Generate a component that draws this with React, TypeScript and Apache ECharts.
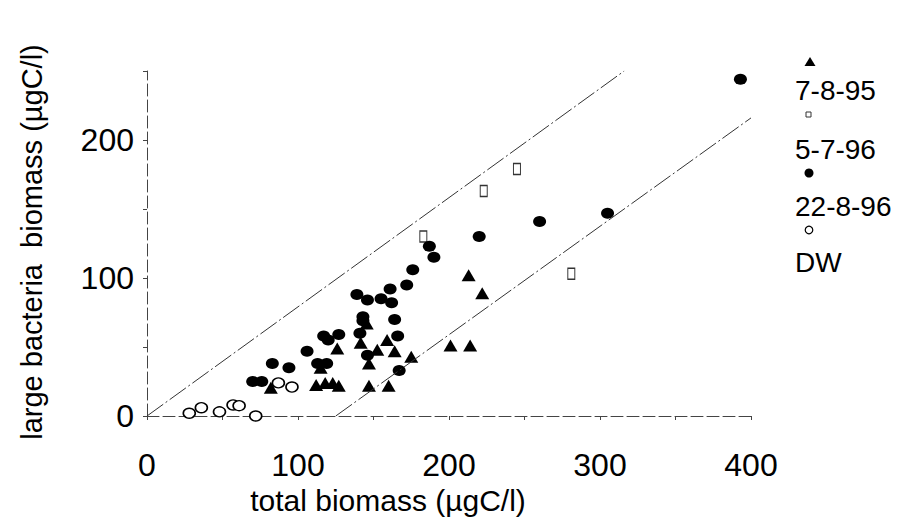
import React, { useEffect, useRef } from "react";
import * as echarts from "echarts";

// ---- data ----
const seriesNames = ["7-8-95", "5-7-96", "22-8-96", "DW"];

const aug95: number[][] = [
  [82, 20.5], [115, 35], [112, 22.5], [118, 24], [123, 24], [127, 22],
  [126, 49], [141.5, 53], [145.5, 67], [147, 38], [152.5, 48], [159, 55],
  [164, 47], [175, 43], [147, 22], [160, 22], [201, 51], [214, 51],
  [213, 102], [222, 89],
];

const jul96: number[][] = [
  [183, 130], [223, 163], [245, 179], [281, 103],
];

const aug96: number[][] = [
  [393, 244], [305, 147], [260, 141], [220, 130], [187, 123], [190, 115],
  [176, 106], [172, 95], [161, 92], [167, 33], [139, 88], [146, 84],
  [155, 85], [162, 82], [143, 72], [143, 69], [164, 70], [141, 60],
  [127, 59], [117, 58], [120, 55], [166, 58], [146, 44], [106, 47],
  [113, 38], [119, 38], [83, 38], [94, 35], [70, 25], [76, 25],
];

const dw: number[][] = [
  [28, 2], [36, 6], [48, 3], [57, 8], [61, 7.5], [72, 0], [87, 24], [96, 21],
];

const upperLine: number[][] = [[0, 0], [316, 250]];
const lowerLine: number[][] = [[125, 0], [400, 216]];

const xTicks = { min: 0, max: 400, step: 50 };
const yTicks = { min: 0, max: 250, step: 50 };

const FONT = "'Liberation Sans', Arial, Helvetica, sans-serif";
const INK = "#000";

export default function App() {
  const ref = useRef<HTMLDivElement>(null);

  useEffect(() => {
    if (!ref.current) return;
    const chart = echarts.init(ref.current, undefined, { renderer: "svg" });

    const axisCommon = {
      type: "value" as const,
      splitLine: { show: false },
      axisLine: { show: true, lineStyle: { color: "#444", width: 1, type: [12, 4] } },
      axisTick: { show: true, length: 4, lineStyle: { color: "#444", width: 1 } },
    };

    const legendY = [90, 149, 206, 262];
    const symY = [62, 115, 173, 230];

    chart.setOption({
      animation: false,
      backgroundColor: "#fff",
      textStyle: { fontFamily: FONT, color: INK },
      grid: { left: 147, right: 149, top: 71, bottom: 101, outerBoundsMode: "none" },
      xAxis: {
        ...axisCommon,
        min: xTicks.min,
        max: xTicks.max,
        interval: xTicks.step,
        axisLabel: {
          margin: 33,
          fontSize: 32,
          color: INK,
          fontFamily: FONT,
          formatter: (v: number) => (v % 100 === 0 ? String(v) : ""),
        },
      },
      yAxis: {
        ...axisCommon,
        min: yTicks.min,
        max: yTicks.max,
        interval: yTicks.step,
        axisLabel: {
          margin: 13,
          fontSize: 32,
          color: INK,
          fontFamily: FONT,
          formatter: (v: number) => (v % 100 === 0 ? String(v) : ""),
        },
      },
      graphic: [
        {
          type: "text",
          x: 388,
          y: 500,
          style: {
            text: "total biomass (µgC/l)",
            font: `30px ${FONT}`,
            fill: INK,
            textAlign: "center",
            textVerticalAlign: "middle",
          },
        },
        {
          type: "text",
          x: 32,
          y: 242,
          rotation: Math.PI / 2,
          style: {
            text: "large bacteria  biomass (µgC/l)",
            font: `29px ${FONT}`,
            fill: INK,
            textAlign: "center",
            textVerticalAlign: "middle",
          },
        },
        // legend symbols
        {
          type: "polygon",
          shape: { points: [[810, symY[0] - 5], [815.5, symY[0] + 4], [804.5, symY[0] + 4]] },
          style: { fill: INK },
        },
        {
          type: "rect",
          shape: { x: 806, y: symY[1] - 3, width: 5, height: 5 },
          style: { fill: "#fff", stroke: "#333", lineWidth: 1 },
        },
        {
          type: "circle",
          shape: { cx: 809, cy: symY[2], r: 4.5 },
          style: { fill: INK },
        },
        {
          type: "circle",
          shape: { cx: 809, cy: symY[3], r: 3.8 },
          style: { fill: "#fff", stroke: INK, lineWidth: 1.2 },
        },
        ...seriesNames.map((name, i) => ({
          type: "text",
          x: 795,
          y: legendY[i],
          style: {
            text: name,
            font: `28px ${FONT}`,
            fill: INK,
            textAlign: "left",
            textVerticalAlign: "middle",
          },
        })),
      ],
      series: [
        {
          type: "line",
          name: "upper",
          data: upperLine,
          symbol: "none",
          silent: true,
          lineStyle: { color: "#333", width: 1, type: [20, 3, 2, 3] },
        },
        {
          type: "line",
          name: "lower",
          data: lowerLine,
          symbol: "none",
          silent: true,
          lineStyle: { color: "#333", width: 1, type: [20, 3, 2, 3] },
        },
        {
          type: "scatter",
          name: seriesNames[0],
          data: aug95,
          symbol: "triangle",
          symbolSize: [14, 12],
          itemStyle: { color: INK, opacity: 1 },
        },
        {
          type: "scatter",
          name: seriesNames[1],
          data: jul96,
          symbol: "rect",
          symbolSize: [7, 11],
          itemStyle: { color: "#fff", borderColor: "#333", borderWidth: 1.2, opacity: 1 },
        },
        {
          type: "scatter",
          name: seriesNames[2],
          data: aug96,
          symbol: "circle",
          symbolSize: [13, 11],
          itemStyle: { color: INK, opacity: 1 },
        },
        {
          type: "scatter",
          name: seriesNames[3],
          data: dw,
          symbol: "circle",
          symbolSize: [12, 10],
          itemStyle: { color: "#fff", borderColor: INK, borderWidth: 1.5, opacity: 1 },
        },
      ],
    });

    return () => chart.dispose();
  }, []);

  return <div ref={ref} style={{ width: 900, height: 517, position: "absolute", left: 0, top: 0 }} />;
}
